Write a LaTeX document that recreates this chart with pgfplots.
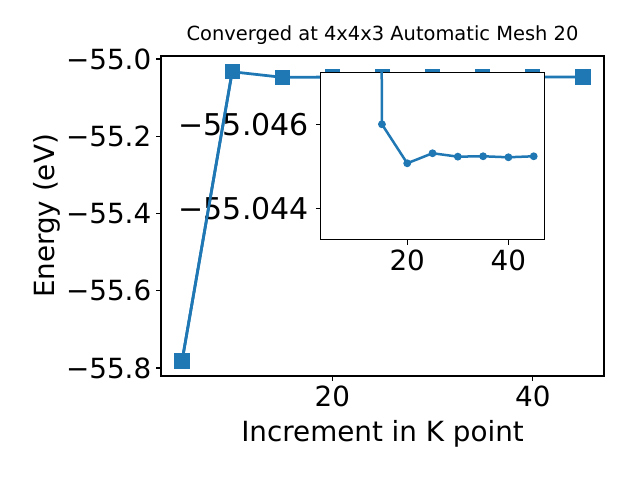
\documentclass[border=0pt]{standalone}
\usepackage{fontspec}
\setmainfont{DejaVu Sans}
\usepackage{pgfplots}
\pgfplotsset{compat=1.18}
\definecolor{tabblue}{HTML}{1F77B4}
\pgfplotsset{mainframe/.style={at={(0,0)}, anchor=south west, scale only axis,
  width=318.96pt, height=230.4pt,
  xmin=2.9, xmax=47.1, ymin=-55.8207, ymax=-54.9922}}
\newcommand{\insetfont}{\fontsize{21.6}{26}\selectfont}
\begin{document}
\begin{tikzpicture}
\path[use as bounding box] (-115.92pt,-74.88pt) rectangle ++(460.8pt,345.6pt);
\begin{axis}[mainframe,
  xtick={20,40}, xticklabels={20,40},
  ytick={-55.8,-55.6,-55.4,-55.2,-55.0},
  yticklabels={−55.8,−55.6,−55.4,−55.2,−55.0},
  tick align=outside, major tick length=3.5pt,
  tick style={black, line width=0.8pt}, axis line style={line width=0.8pt},
  xtick pos=bottom, ytick pos=left,
  ticklabel style={font=\fontsize{20}{24}\selectfont},
  xlabel={Increment in K point}, ylabel={Energy (eV)},
  every axis x label/.style={at={(axis description cs:0.5,-0.2053)}, anchor=base, font=\fontsize{20}{24}\selectfont},
  every axis y label/.style={at={(axis description cs:-0.2408,0.5)}, anchor=base, rotate=90, font=\fontsize{20}{24}\selectfont},
  title={Converged at 4x4x3 Automatic Mesh 20},
  title style={font=\fontsize{14}{17}\selectfont, at={(axis description cs:0.5,1)}, anchor=base, yshift=5.5pt},
]
\addplot[tabblue, line width=2pt, mark=square*, mark size=5pt, mark options={line width=1pt}] coordinates {
(5,-55.782) (10,-55.033) (15,-55.0474) (20,-55.0467) (25,-55.0467) (30,-55.0467) (35,-55.0467) (40,-55.0467) (45,-55.0467)};
\end{axis}
% inset: energy offsets in units of 1e-4 eV relative to -55.0466 eV
\begin{axis}[at={(115pt,218.66pt)}, anchor=north west, scale only axis,
  width=161pt, height=120.7pt,
  axis background/.style={fill=white},
  xmin=2.9, xmax=47.1, ymin=-2.755, ymax=1.238,
  xtick={20,40}, xticklabels={20,40},
  ytick={-2,0}, yticklabels={{\insetfont −55.044},{\insetfont −55.046}},
  tick align=outside, major tick length=3.5pt,
  tick style={black, line width=0.8pt}, axis line style={line width=0.8pt},
  xtick pos=bottom, ytick pos=left,
  ticklabel style={font=\fontsize{20}{24}\selectfont},
  yticklabel style={xshift=-1.5pt},
]
\addplot[tabblue, line width=1.8pt, mark=*, mark size=2.4pt, mark options={line width=0.8pt}] coordinates {
(10,146) (15,0) (20,-0.929) (25,-0.690) (30,-0.771) (35,-0.762) (40,-0.786) (45,-0.762)};
\end{axis}
% main-curve segment left of the inset, drawn again over the inset tick labels
\begin{axis}[mainframe, hide axis]
\addplot[tabblue, line width=2pt, mark=square*, mark size=5pt, mark options={line width=1pt}] coordinates {
(5,-55.782) (10,-55.033)};
\end{axis}
\end{tikzpicture}
\end{document}
